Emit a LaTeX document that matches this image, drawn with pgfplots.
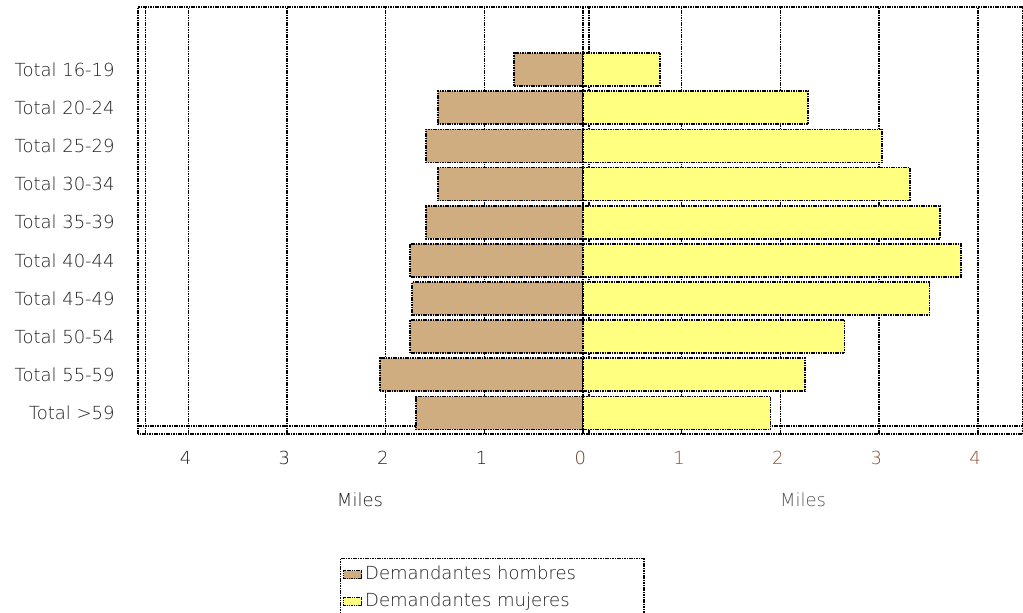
\documentclass[border=0pt]{standalone}
\usepackage{fontspec}
\setmainfont{DejaVu Sans ExtraLight}
\usepackage{pgfplots}
\usepackage{pgfplotstable}
\pgfplotsset{compat=1.18}
\definecolor{hombres}{HTML}{D0AD80}
\definecolor{mujeres}{HTML}{FFFF80}
\definecolor{txt}{HTML}{202020}
\definecolor{txtl}{HTML}{555555}
\definecolor{lbrown}{HTML}{6A3418}
\definecolor{rbrown}{HTML}{904F30}
\newlength\px \setlength\px{0.75pt}

% idx 0 = Total >59 (bottom) ... 9 = Total 16-19 (top); hombres stored negative (left side)
\pgfplotstableread{
idx h m
0 -1.69 1.90
1 -2.06 2.25
2 -1.75 2.65
3 -1.73 3.51
4 -1.75 3.83
5 -1.59 3.62
6 -1.47 3.31
7 -1.59 3.03
8 -1.47 2.28
9 -0.70 0.78
}\datatable

\tikzset{dotline/.style={black, line width=1.05pt, dash pattern=on 1.2pt off 0.6pt}}

\begin{document}
\begin{tikzpicture}
\begin{axis}[
  at={(138\px,179\px)}, anchor=south west,
  scale only axis, width=885\px, height=427\px,
  xmin=-4.509, xmax=4.458, ymin=-0.55, ymax=10.64,
  clip=false,
  font=\fontsize{13.5}{16}\selectfont,
  axis line style={dotline},
  major tick length=0pt,
  xtick={-4,-3,-2,-1,0,1,2,3,4},
  xticklabels={\textcolor{txt}{4},\textcolor{txt}{3},\textcolor{txt}{2},\textcolor{txt}{1},\textcolor{lbrown}{0},\textcolor{rbrown}{1},\textcolor{rbrown}{2},\textcolor{rbrown}{3},\textcolor{rbrown}{4}},
  xticklabel style={yshift=-9.5pt, xshift=-2pt},
  ytick={0,...,9},
  yticklabels={Total >59,Total 55-59,Total 50-54,Total 45-49,Total 40-44,Total 35-39,Total 30-34,Total 25-29,Total 20-24,Total 16-19},
  yticklabel style={text=txt, xshift=-14pt},
  xmajorgrids,
  major grid style={dotline},
  extra x ticks={-4.43,0.06},
  extra x tick labels={},
  extra x tick style={grid=major, major grid style={dotline}},
  extra y ticks={-0.34},
  extra y tick labels={},
  extra y tick style={grid=major, major grid style={dotline}},
  legend style={at={(rel axis cs:0.228,-0.29)}, anchor=north west,
    draw=black, line width=1.05pt, dash pattern=on 1.2pt off 0.6pt, fill=white,
    font=\fontsize{13.5}{16}\selectfont, text=txt,
    inner xsep=2pt, inner ysep=6pt, row sep=7.2pt, column sep=2pt,
    nodes={inner sep=0pt, text height=10pt, text depth=3pt}},
  legend cell align=left,
  legend image code/.code={\draw[#1, line width=1pt, dash pattern=on 1.1pt off 0.6pt] (0pt,-3.5\px) rectangle (18\px,4.5\px);},
]
\addplot[xbar, bar shift=0pt, bar width=24.75pt, fill=hombres, draw=black, line width=1.3pt, dash pattern=on 1.2pt off 0.6pt]
  table[x=h, y=idx]{\datatable};
\addlegendentry{\makebox[207pt][l]{Demandantes hombres}}
\addplot[xbar, bar shift=0pt, bar width=24.75pt, fill=mujeres, draw=black, line width=1.3pt, dash pattern=on 1.2pt off 0.6pt]
  table[x=m, y=idx]{\datatable};
\addlegendentry{\makebox[207pt][l]{Demandantes mujeres}}
\node[text=txt] at (axis cs:-2.26,-2.28) {Miles};
\node[text=txtl] at (axis cs:2.23,-2.28) {Miles};
\end{axis}
\pgfresetboundingbox
\useasboundingbox (0,0) rectangle (1023\px,613\px);
\end{tikzpicture}
\end{document}
